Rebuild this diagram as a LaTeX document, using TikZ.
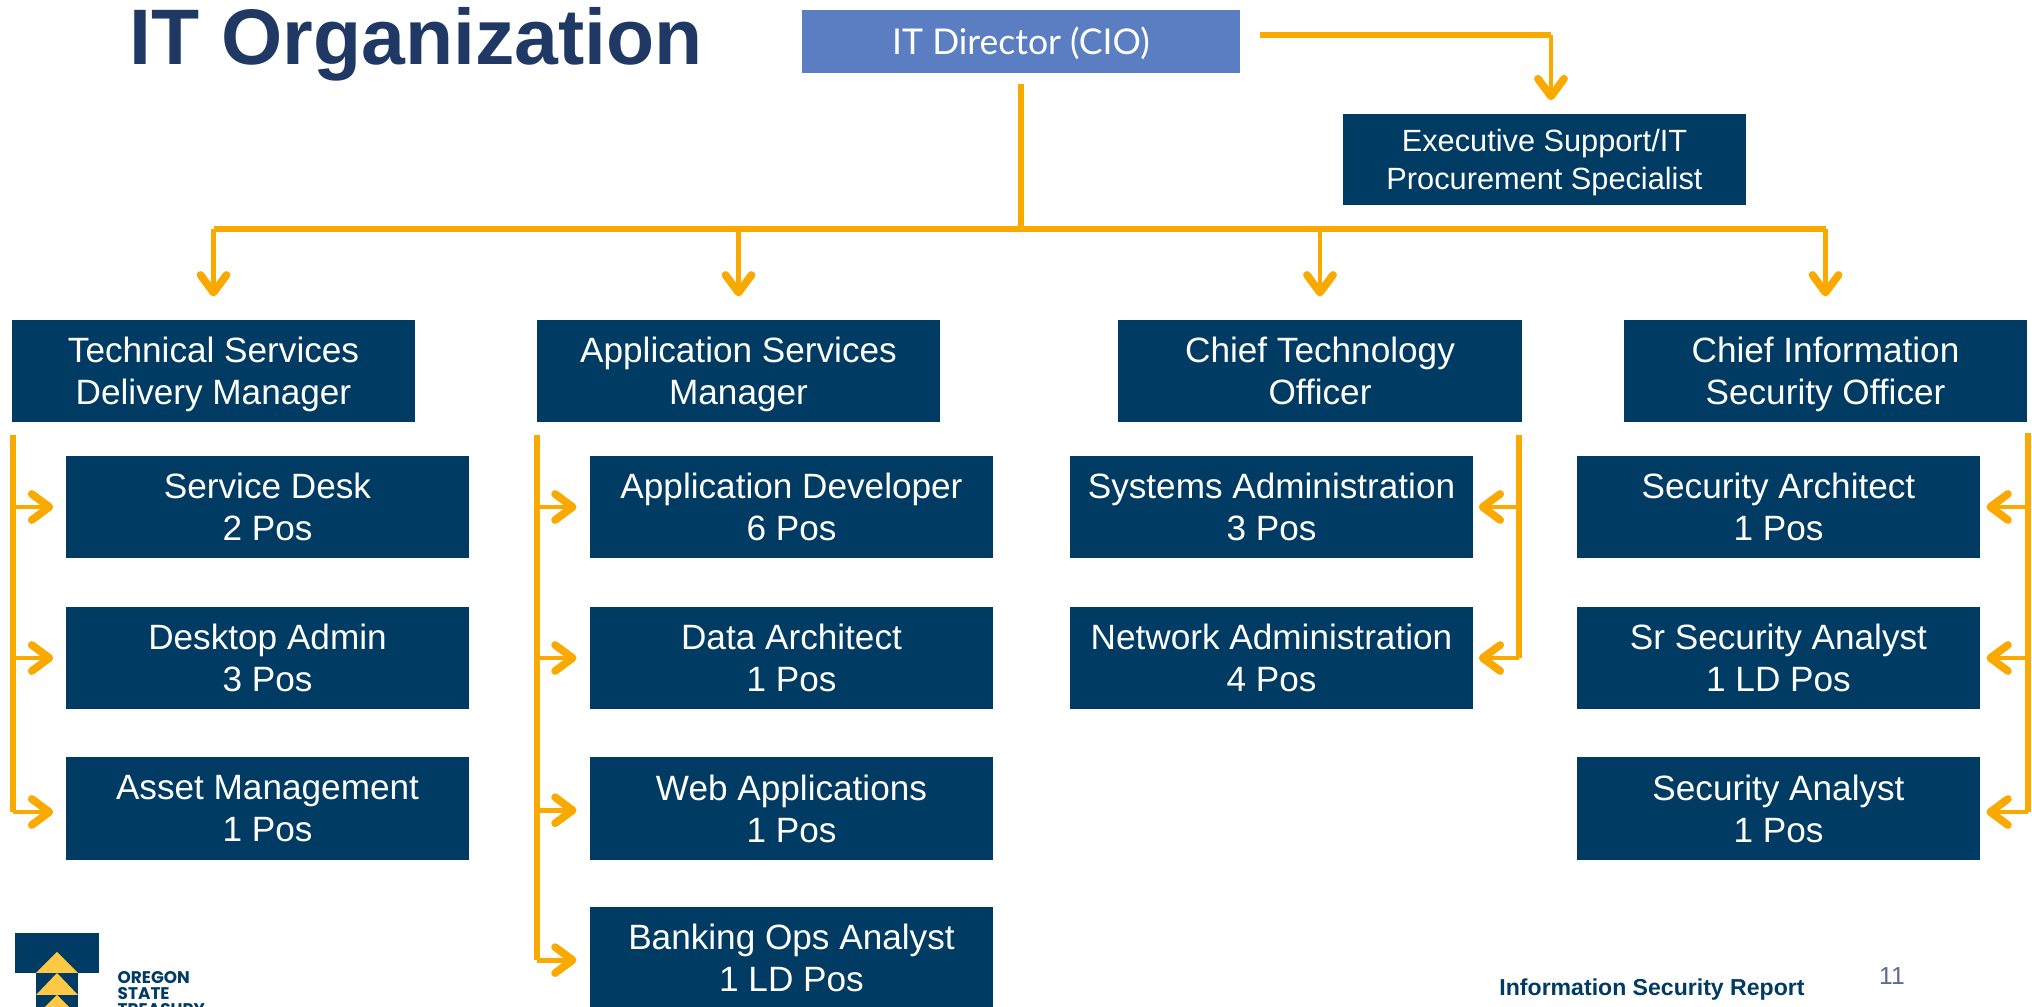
\documentclass[tikz,border=0pt]{standalone}
\usepackage{xcolor}
\usepackage{fontspec}
\setmainfont{Liberation Sans}
\newfontfamily\directorfont{Lato}
\newfontfamily\logofont{Poppins}
\definecolor{mnavy}{HTML}{003B63}
\definecolor{morange}{HTML}{FAA900}
\definecolor{mblue}{HTML}{5B7EC3}
\definecolor{mtitle}{HTML}{1F3864}
\definecolor{mgold}{HTML}{FFC845}
\definecolor{mpage}{HTML}{5A6B8C}
\usetikzlibrary{arrows.meta}
\tikzset{
  orgbox/.style={fill=mnavy, text=white, inner sep=0pt, minimum width=4.03cm, minimum height=1.02cm,
    align=center, font=\fontsize{10}{11.95}\selectfont},
  logotext/.style={text=mnavy, inner sep=0pt, anchor=base west, font=\fontsize{4.8}{5}\logofont\bfseries\selectfont},
  rail/.style={morange, line width=1.9pt},
  branch/.style={morange, line width=1.4pt, -{Straight Barb[length=5pt,width=7.4pt,round,line width=2.2pt]}},
}

\begin{document}
\begin{tikzpicture}[x=0.01cm, y=-0.01cm]

            \useasboundingbox (0, 0) rectangle (2032, 1007);
            \clip (0, 0) rectangle (2032, 1007);

            \node[text=mtitle, font=\fontsize{22.4}{26}\selectfont\bfseries, anchor=base] (title) at (416, 65) {IT Organization};

            \node[fill=mblue, text=white, inner sep=0pt, minimum width=4.38cm, minimum height=0.63cm, text height=8pt, text depth=0.6pt, font=\fontsize{10.1}{12}\directorfont\selectfont] (cio) at (1021, 41.5) {IT Director (CIO)};
            \node[orgbox, minimum height=0.91cm, font=\fontsize{8.74}{10.7}\selectfont] (esp) at (1544.5, 159.5) {Executive Support/IT\\\smash{Procurement Specialist}};

            \node[orgbox] (tsm) at (213.5, 371) {Technical Services\\\smash{Delivery Manager}};
            \node[orgbox] (asm) at (738.5, 371) {Application Services\\\smash{Manager}};
            \node[orgbox] (cto) at (1320, 371) {Chief Technology\\Officer};
            \node[orgbox] (ciso) at (1825.5, 371) {Chief Information\\\smash{Security Officer}};

            \node[orgbox] (desk) at (267.5, 507) {Service Desk\\2 Pos};
            \node[orgbox] (desktop) at (267.5, 658) {Desktop Admin\\3 Pos};
            \node[orgbox] (asset) at (267.5, 808.5) {Asset Management\\1 Pos};

            \node[orgbox] (appdev) at (791.5, 507) {Application Developer\\6 Pos};
            \node[orgbox] (data) at (791.5, 658) {Data Architect\\1 Pos};
            \node[orgbox] (web) at (791.5, 808.5) {Web Applications\\1 Pos};
            \node[orgbox] (bank) at (791.5, 958) {Banking Ops Analyst\\1 LD Pos};

            \node[orgbox] (sys) at (1271.5, 507) {Systems Administration\\3 Pos};
            \node[orgbox] (net) at (1271.5, 658) {Network Administration\\4 Pos};

            \node[orgbox] (secarch) at (1778.5, 507) {Security Architect\\1 Pos};
            \node[orgbox] (sranalyst) at (1778.5, 658) {Sr Security Analyst\\1 LD Pos};
            \node[orgbox] (analyst) at (1778.5, 808.5) {Security Analyst\\1 Pos};

            % top connectors
            \coordinate (hub) at (1021, 229);
            \coordinate (cioout) at (1260, 35);
            \coordinate (espturn) at (1551, 35);
            \draw[rail, line width=1.5pt, shorten <=3pt] (cio.south) -- (hub);
            \draw[rail] (cioout) -- (espturn);
            \draw[branch, shorten >=3.7pt] (espturn) -- (espturn |- esp.north);
            \draw[rail] (tsm.north |- hub) -- (ciso.north |- hub);
            \draw[branch, shorten >=6.5pt] (tsm.north |- hub) -- (tsm.north);
            \draw[branch, shorten >=6.5pt] (asm.north |- hub) -- (asm.north);
            \draw[branch, shorten >=6.5pt] (cto.north |- hub) -- (cto.north);
            \draw[branch, shorten >=6.5pt] (ciso.north |- hub) -- (ciso.north);

            % side rails
            \coordinate (tsmrail) at (13, 435);
            \coordinate (asmrail) at (537, 435);
            \coordinate (ctorail) at (1519, 435);
            \coordinate (cisorail) at (2028, 433);

            \draw[rail] (tsmrail) -- ([yshift=-1pt]tsmrail |- asset.west);
            \draw[branch, shorten >=3.4pt] (tsmrail |- desk.west) -- (desk.west);
            \draw[branch, shorten >=3.4pt] (tsmrail |- desktop.west) -- (desktop.west);
            \draw[branch, shorten >=3.4pt] ([yshift=-1pt]tsmrail |- asset.west) -- ([yshift=-1pt]asset.west);

            \draw[rail] (asmrail) -- ([yshift=-0.6pt]asmrail |- bank.west);
            \draw[branch, shorten >=3.6pt] (asmrail |- appdev.west) -- (appdev.west);
            \draw[branch, shorten >=3.6pt] (asmrail |- data.west) -- (data.west);
            \draw[branch, shorten >=3.6pt] ([yshift=-0.5pt]asmrail |- web.west) -- ([yshift=-0.5pt]web.west);
            \draw[branch, shorten >=3.6pt] ([yshift=-0.6pt]asmrail |- bank.west) -- ([yshift=-0.6pt]bank.west);

            \draw[rail] (ctorail) -- (ctorail |- net.east);
            \draw[branch, shorten >=1.4pt] (ctorail |- sys.east) -- (sys.east);
            \draw[branch, shorten >=1.4pt] (ctorail |- net.east) -- (net.east);

            \draw[rail] (cisorail) -- ([yshift=-1pt]cisorail |- analyst.east);
            \draw[branch, shorten >=1.6pt] (cisorail |- secarch.east) -- (secarch.east);
            \draw[branch, shorten >=1.6pt] (cisorail |- sranalyst.east) -- (sranalyst.east);
            \draw[branch, shorten >=1.6pt] ([yshift=-1pt]cisorail |- analyst.east) -- ([yshift=-1pt]analyst.east);

            % logo and footer
            \fill[mnavy] (15, 933) rectangle (99, 973);
            \fill[mnavy] (36, 973) rectangle (78, 1007);
            \fill[mgold] (57, 952) -- (78, 973) -- (36, 973) -- cycle;
            \fill[mgold] (57, 973) -- (78, 995) -- (36, 995) -- cycle;
            \fill[mgold] (57, 995) -- (78, 1016) -- (36, 1016) -- cycle;
            \node[logotext] (oregon) at (117, 984) {OREGON};
            \node[logotext] (state) at (117, 1000) {STATE};
            \node[logotext] (treasury) at (117, 1016) {TREASURY};

            \node[text=mnavy, font=\fontsize{6.56}{8}\selectfont\bfseries] (report) at (1652, 990) {Information Security Report};
            \node[text=mpage, font=\fontsize{7}{8}\selectfont] (page) at (1892, 976) {11};

          \end{tikzpicture}
\end{document}
